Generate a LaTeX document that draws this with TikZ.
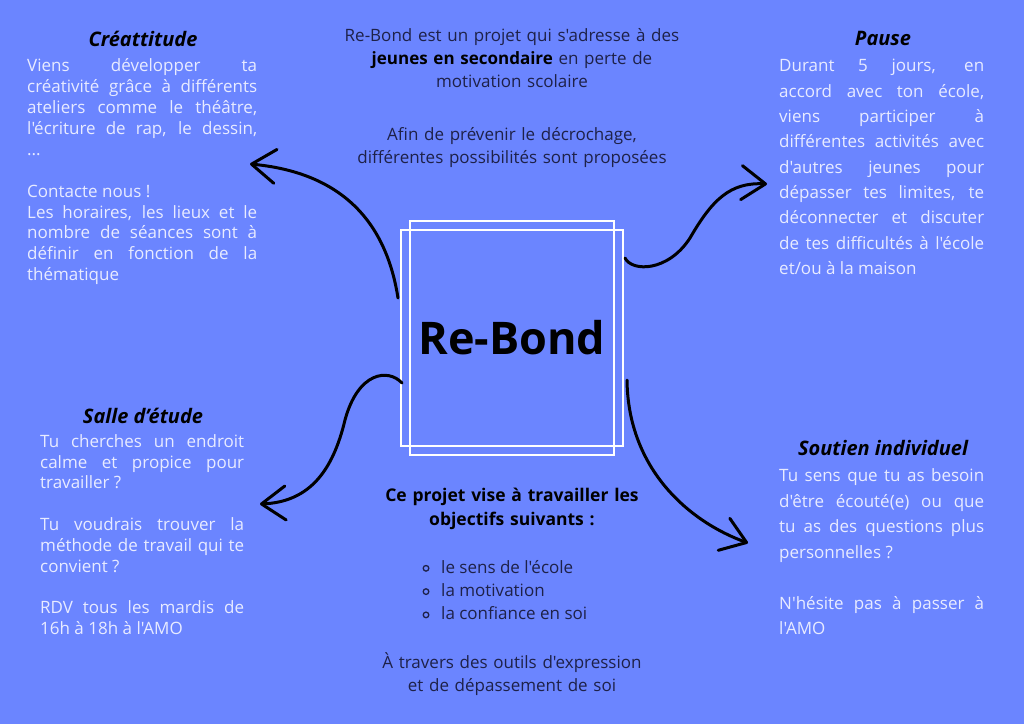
\documentclass[tikz,border=0pt]{standalone}
\usepackage{fontspec}
\setmainfont{Open Sans}[Ligatures=TeXOff]
\usepackage[rgb]{xcolor}
\usepackage{tikz}
\usetikzlibrary{arrows.meta}

\definecolor{rebondblue}{HTML}{6B85FF}
\definecolor{paletext}{HTML}{E8EBFF}
\definecolor{darktext}{HTML}{1E2148}

% one justified line
\newcommand\jl[1]{\makebox[\hsize][s]{#1}}

\begin{document}
\begin{tikzpicture}[x=1pt, y=-1pt,
  heading/.style={font=\fontsize{20}{24}\selectfont\bfseries\itshape, text=black, anchor=base, inner sep=0pt},
  lightbody/.style={text=paletext, anchor=base west, inner sep=0pt, align=justify},
  darkbody/.style={text=darktext, anchor=base, inner sep=0pt, align=center, font=\fontsize{17}{23.3}\selectfont},
  frame/.style={draw=white, line width=2.5pt, inner sep=0pt},
  sketch/.style={draw=black, line width=3pt, line cap=round, -{Straight Barb[length=24pt, width=34pt, round]}}]

\useasboundingbox (0,0) rectangle (1024,724);
\fill[rebondblue] (0,0) rectangle (1024,724);


%
% Re-Bond centre
%
\path 
(512,338) node[frame, minimum width=204pt, minimum height=234pt, font=\fontsize{45}{52}\selectfont\bfseries] (rebond) {Re-Bond};

\path 
(512,338) node[frame, minimum width=222pt, minimum height=216pt] (rebond-back) {};


% intro top
\path 
(512,41) node[darkbody, text width=420pt] (intro) {Re-Bond est un projet qui s'adresse à des\\
{\bfseries\color{black}jeunes en secondaire} en perte de\\
motivation scolaire};

\path 
(512,140) node[darkbody, text width=420pt] (afin) {Afin de prévenir le décrochage,\\
différentes possibilités sont proposées};


% objectives bottom
\path 
(512,501.7) node[darkbody, text width=420pt, text=black, font=\fontsize{17.5}{23.3}\selectfont\bfseries] (goals) {Ce projet vise à travailler les\\
objectifs suivants :};

\foreach \itm [count=\i] in {le sens de l'école, la motivation, la confiance en soi}
{
\path 
(441,{573.3+23.3*(\i-1)}) node[darkbody, anchor=base west] (goal-\i) {\itm};
\draw[darktext, line width=1.3pt] ([xshift=-15pt, yshift=5pt]goal-\i.base west) circle (2.8pt);
}

\path 
(512,668.3) node[darkbody, text width=420pt] (tools) {À travers des outils d'expression\\
et de dépassement de soi};


%
% Creattitude top left
%
\path 
(143,46.7) node[heading] (cre-title) {Créattitude};

\path 
(27,71.7) node[lightbody, text width=230pt, font=\fontsize{17}{20.9}\selectfont] (cre-text) {\jl{Viens développer ta}\\
\jl{créativité grâce à différents}\\
\jl{ateliers comme le théâtre,}\\
\jl{l'écriture de rap, le dessin,}\\
...\\[20.9pt]
Contacte nous !\\
\jl{Les horaires, les lieux et le}\\
\jl{nombre de séances sont à}\\
\jl{définir en fonction de la}\\
thématique};


%
% Pause top right
%
\path 
(883,45) node[heading] (pause-title) {Pause};

\path 
(779,71.7) node[lightbody, text width=205pt, font=\fontsize{17}{25.35}\selectfont] (pause-text) {\jl{Durant 5 jours, en}\\
\jl{accord avec ton école,}\\
\jl{viens participer à}\\
\jl{différentes activités avec}\\
\jl{d'autres jeunes pour}\\
\jl{dépasser tes limites, te}\\
\jl{déconnecter et discuter}\\
\jl{de tes difficultés à l'école}\\
et/ou à la maison};


%
% Salle d'etude bottom left
%
\path 
(143,423) node[heading] (salle-title) {Salle d’étude};

\path 
(40,447.3) node[lightbody, text width=204pt, font=\fontsize{17}{20.8}\selectfont] (salle-text) {\jl{Tu cherches un endroit}\\
\jl{calme et propice pour}\\
travailler ?\\[20.8pt]
\jl{Tu voudrais trouver la}\\
\jl{méthode de travail qui te}\\
convient ?\\[20.8pt]
\jl{RDV tous les mardis de}\\
16h à 18h à l'AMO};


%
% Soutien individuel bottom right
%
\path 
(883,455) node[heading] (soutien-title) {Soutien individuel};

\path 
(779,481.7) node[lightbody, text width=205pt, font=\fontsize{17}{25.5}\selectfont] (soutien-text) {\jl{Tu sens que tu as besoin}\\
\jl{d'être écouté(e) ou que}\\
\jl{tu as des questions plus}\\
personnelles ?\\[25.5pt]
\jl{N'hésite pas à passer à}\\
l'AMO};


%
% Arrows
%
\coordinate (cre-start) at (398,298);
\coordinate (cre-tip) at (250,164);
\coordinate (salle-start) at (402,383);
\coordinate (salle-tip) at (260,504);
\coordinate (pause-start) at (625,258);
\coordinate (pause-tip) at (767,184);
\coordinate (soutien-start) at (627,380);
\coordinate (soutien-tip) at (748,543);

\draw[sketch] (cre-start) .. controls (385,215) and (335,172) .. (cre-tip);

\draw[sketch] (salle-start) .. controls (388,368) and (358,372) .. (345,420) .. controls (333,470) and (310,502) .. (salle-tip);

\draw[sketch] (pause-start) .. controls (632,272) and (668,272) .. (690,238) .. controls (712,200) and (730,182) .. (pause-tip);

\draw[sketch] (soutien-start) .. controls (628,470) and (690,522) .. (soutien-tip);


\end{tikzpicture}
\end{document}
